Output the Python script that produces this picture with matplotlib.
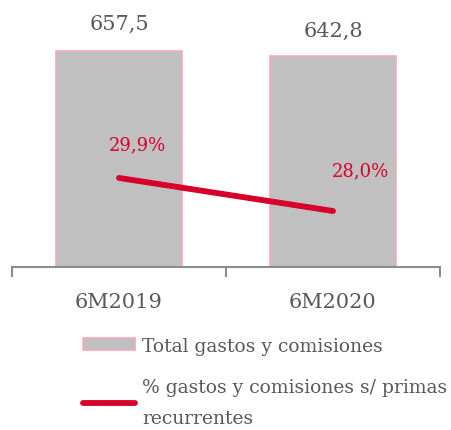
import matplotlib.pyplot as plt
from matplotlib.patches import Patch
from matplotlib.lines import Line2D

periods = ["6M2019", "6M2020"]
total_gastos = [657.5, 642.8]
pct_gastos = [29.9, 28.0]
bar_labels = ["657,5", "642,8"]
pct_labels = ["29,9%", "28,0%"]

W, H = 452, 431
fig = plt.figure(figsize=(W / 100, H / 100), dpi=100)
plt.rcParams['font.family'] = ['DejaVu Serif']

grey = '#c0c0c0'
pink = '#f7a8b8'
red = '#d7002a'
txt = '#595959'

# axes placed in pixel terms
left, right, top, base = 12, 440, 20, 268
ax = fig.add_axes([left / W, 1 - base / H, (right - left) / W, (base - top) / H])
ax.set_xlim(-0.5, 1.5)
ax.set_ylim(0, 755)

x = [0, 1]
ax.bar(x, total_gastos, width=0.59, color=grey, edgecolor=pink, linewidth=1.2)
val_offs = [20, 18]
for xi, v, lab, o in zip(x, total_gastos, bar_labels, val_offs):
    ax.annotate(lab, (xi, v), xytext=(0, o), textcoords='offset points',
                ha='center', va='center', fontsize=15, color=txt)

for s in ['top', 'right', 'left']:
    ax.spines[s].set_visible(False)
ax.spines['bottom'].set_color('#8c8c8c')
ax.spines['bottom'].set_linewidth(1.5)
ax.set_yticks([])
ax.set_xticks(x)
ax.set_xticklabels(periods, fontsize=15, color=txt)
ax.tick_params(axis='x', which='major', length=0, pad=18)
ax.set_xticks([-0.5, 0.5, 1.5], minor=True)
ax.tick_params(axis='x', which='minor', length=7, width=1.5, color='#8c8c8c')

ax2 = ax.twinx()
ax2.set_ylim(24.78, 39.04)
ax2.axis('off')
ax2.plot(x, pct_gastos, color=red, linewidth=4.2, solid_capstyle='round')
offs = [(13, 24), (20, 29)]
for xi, v, lab, o in zip(x, pct_gastos, pct_labels, offs):
    ax2.annotate(lab, (xi, v), xytext=o, textcoords='offset points',
                 ha='center', va='center', fontsize=13, color=red)

handles = [Patch(facecolor=grey, edgecolor=pink, linewidth=1.2),
           Line2D([0], [0], color=red, linewidth=4.2, solid_capstyle='round')]
labels = ["Total gastos y comisiones",
          "% gastos y comisiones s/ primas\nrecurrentes"]
leg = fig.legend(handles, labels, loc='upper left', bbox_to_anchor=(66 / W, 1 - 321 / H),
                 frameon=False, fontsize=13.5, labelcolor=txt, handlelength=2.8,
                 handleheight=0.6, handletextpad=0.35, labelspacing=1.25)
for t in leg.get_texts():
    t.set_linespacing(1.9)

fig.savefig('out.png', dpi=100)
